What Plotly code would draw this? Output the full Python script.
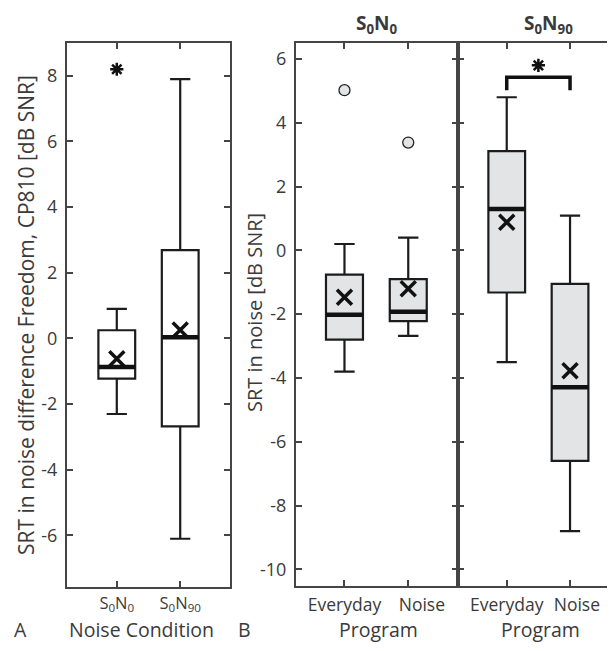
import plotly.graph_objects as go

# The page body adds an 8px margin on every side; the figure is sized so that
# figure + margins exactly fill the 615x651 window.
OFF = 8
W, H = 615 - 2 * OFF, 651 - 2 * OFF

# ---------------- data ----------------
# Panel A: SRT difference (Freedom - CP810), per noise condition
a_pos = [1, 2]
a_labels = ["S<sub>0</sub>N<sub>0</sub>", "S<sub>0</sub>N<sub>90</sub>"]
a_lowfence = [-2.3, -6.1]
a_q1 = [-1.22, -2.68]
a_median = [-0.87, 0.04]
a_q3 = [0.25, 2.69]
a_upfence = [0.9, 7.9]
a_mean = [-0.62, 0.26]
a_out_x = [1]
a_out_y = [8.2]

# Panel B: SRT in noise per program
b_pos = [1, 2]
b_labels_left = ["Everyday", "\u00a0\u00a0\u00a0\u00a0\u00a0\u00a0Noise"]
b_labels_right = ["Everyday", "\u00a0\u00a0\u00a0Noise"]
# S0N0
b0_lowfence = [-3.8, -2.68]
b0_q1 = [-2.8, -2.22]
b0_median = [-2.02, -1.92]
b0_q3 = [-0.76, -0.9]
b0_upfence = [0.2, 0.4]
b0_mean = [-1.47, -1.2]
b0_out_x = [1, 2]
b0_out_y = [5.02, 3.38]
# S0N90
b1_lowfence = [-3.5, -8.8]
b1_q1 = [-1.32, -6.6]
b1_median = [1.3, -4.29]
b1_q3 = [3.11, -1.05]
b1_upfence = [4.8, 1.09]
b1_mean = [0.88, -3.77]

sig_y_bar = 5.43
sig_y_leg = 5.02
sig_y_star = 5.8

a_yticks = [-6, -4, -2, 0, 2, 4, 6, 8]
b_yticks = [-10, -8, -6, -4, -2, 0, 2, 4, 6]

# ---------------- style ----------------
FONT = "Open Sans"
AX = "#454545"
TXT = "#3a3a3a"
BOXW = 0.58
BOXLINE = "#1c1c1c"


def px(x):
    return (x - OFF) / W


def py(y):
    return 1 - (y - OFF) / H


fig = go.Figure()


def add_boxes(xaxis, yaxis, pos, lo, q1, med, q3, hi, mean, fill):
    fig.add_trace(go.Box(
        x=pos, q1=q1, median=med, q3=q3, lowerfence=lo, upperfence=hi,
        width=BOXW, whiskerwidth=0.55, fillcolor=fill,
        line=dict(color=BOXLINE, width=2.2), boxpoints=False,
        xaxis=xaxis, yaxis=yaxis, showlegend=False, hoverinfo="skip"))
    for p, m in zip(pos, med):
        fig.add_trace(go.Scatter(
            x=[p - BOXW / 2, p + BOXW / 2], y=[m, m], mode="lines",
            line=dict(color="#111111", width=4.5), xaxis=xaxis, yaxis=yaxis,
            showlegend=False, hoverinfo="skip"))
    fig.add_trace(go.Scatter(
        x=pos, y=mean, mode="markers",
        marker=dict(symbol="x-thin", size=15, line=dict(color="#111111", width=3.5)),
        xaxis=xaxis, yaxis=yaxis, showlegend=False, hoverinfo="skip"))


# Panel A
add_boxes("x", "y", a_pos, a_lowfence, a_q1, a_median, a_q3, a_upfence, a_mean, "white")
fig.add_trace(go.Scatter(
    x=a_out_x, y=a_out_y, mode="markers",
    marker=dict(symbol="asterisk", size=11, line=dict(color="#111111", width=2.5)),
    xaxis="x", yaxis="y", showlegend=False, hoverinfo="skip"))

# Panel B left (S0N0)
add_boxes("x2", "y2", b_pos, b0_lowfence, b0_q1, b0_median, b0_q3, b0_upfence, b0_mean, "#e3e4e5")
fig.add_trace(go.Scatter(
    x=b0_out_x, y=b0_out_y, mode="markers",
    marker=dict(symbol="circle", size=11, color="#e3e4e5", line=dict(color="#222222", width=1.3)),
    xaxis="x2", yaxis="y2", showlegend=False, hoverinfo="skip"))

# Panel B right (S0N90)
add_boxes("x3", "y3", b_pos, b1_lowfence, b1_q1, b1_median, b1_q3, b1_upfence, b1_mean, "#e3e4e5")
fig.add_trace(go.Scatter(
    x=[b_pos[0], b_pos[0], b_pos[1], b_pos[1]],
    y=[sig_y_leg, sig_y_bar, sig_y_bar, sig_y_leg], mode="lines",
    line=dict(color="#111111", width=3.5), xaxis="x3", yaxis="y3",
    showlegend=False, hoverinfo="skip"))
fig.add_trace(go.Scatter(
    x=[(b_pos[0] + b_pos[1]) / 2], y=[sig_y_star], mode="markers",
    marker=dict(symbol="asterisk", size=11, line=dict(color="#111111", width=2.5)),
    xaxis="x3", yaxis="y3", showlegend=False, hoverinfo="skip"))

tick_style = dict(ticks="inside", ticklen=6, tickwidth=2, tickcolor=AX,
                  showgrid=False, zeroline=False,
                  tickfont=dict(family=FONT, size=18, color=TXT))
axis_common = dict(showline=True, linecolor=AX, linewidth=2, mirror="ticks", **tick_style)

fig.update_layout(
    width=W, height=H,
    margin=dict(l=0, r=0, t=0, b=0),
    paper_bgcolor="white", plot_bgcolor="white",
    font=dict(family=FONT, color=TXT),
    xaxis=dict(domain=[px(67), px(230)], range=[0.215, 2.785], tickangle=0,
               tickvals=a_pos, ticktext=a_labels, anchor="y", ticklabelstandoff=0, **axis_common),
    yaxis=dict(domain=[py(587), py(43)], range=[-7.57, 9.0],
               tickvals=a_yticks, ticktext=[str(v) for v in a_yticks],
               anchor="x", ticklabelstandoff=4, **axis_common),
    xaxis2=dict(domain=[px(296), px(458)], range=[0.24, 2.78], tickangle=0,
                tickvals=b_pos, ticktext=b_labels_left, anchor="y2", ticklabelstandoff=2, **axis_common),
    yaxis2=dict(domain=[py(586), py(43)], range=[-10.52, 6.5],
                tickvals=b_yticks, ticktext=[str(v) for v in b_yticks],
                anchor="x2", ticklabelstandoff=4, **axis_common),
    xaxis3=dict(domain=[px(458), 1.0], range=[0.23, 0.23 + (W + OFF - 458) / 63.3], tickangle=0,
                tickvals=b_pos, ticktext=b_labels_right, anchor="y3", ticklabelstandoff=2, **axis_common),
    yaxis3=dict(domain=[py(586), py(43)], range=[-10.52, 6.5],
                tickvals=b_yticks, showticklabels=False, showline=True, linecolor=AX,
                linewidth=2, mirror=False, anchor="x3", **tick_style),
)
fig.layout.xaxis.tickfont = dict(family=FONT, size=16.5, color=TXT)
fig.layout.xaxis2.tickfont = dict(family=FONT, size=17.5, color=TXT)
fig.layout.xaxis3.tickfont = dict(family=FONT, size=17.5, color=TXT)

ann = []


def add_text(text, x, y, size=20, angle=0, bold=False, yanchor="middle"):
    ann.append(dict(
        text=f"<b>{text}</b>" if bold else text, x=px(x), y=py(y),
        xref="paper", yref="paper", showarrow=False, textangle=angle,
        xanchor="center", yanchor=yanchor,
        font=dict(family=FONT, size=size, color=TXT)))


add_text("SRT in noise difference Freedom, CP810 [dB SNR]", 26, 315, size=21, angle=-90)
add_text("SRT in noise [dB SNR]", 254, 313, size=20, angle=-90)
for txt, xc in [("A", 20), ("Noise Condition", 141), ("B", 245), ("Program", 378), ("Program", 540)]:
    add_text(txt, xc, 645, size=19.5, yanchor="bottom")
add_text("S<sub>0</sub>N<sub>0</sub>", 377, 24, size=19, bold=True)
add_text("S<sub>0</sub>N<sub>90</sub>", 548, 24, size=19, bold=True)
fig.update_layout(annotations=ann)

fig.write_html("out.html")
